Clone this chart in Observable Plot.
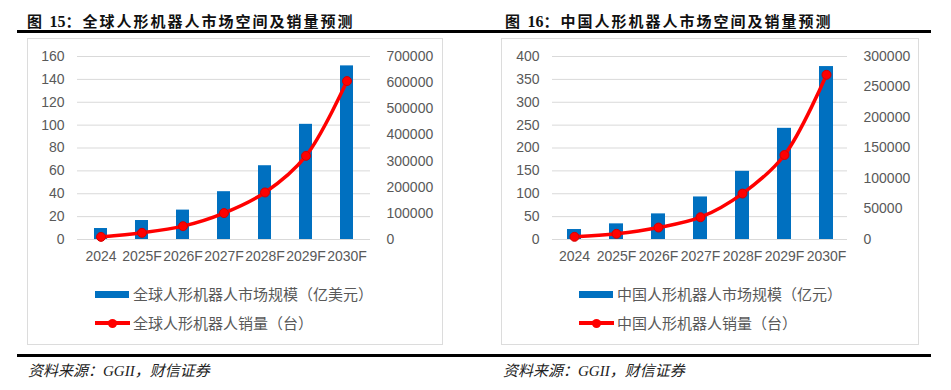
<!DOCTYPE html>
<html><head><meta charset="utf-8">
<script src="https://cdn.jsdelivr.net/npm/d3@7"></script>
<script src="https://cdn.jsdelivr.net/npm/@observablehq/plot@0.6"></script>
<style>
body{margin:0;background:#fff;width:951px;height:390px;position:relative;overflow:hidden;font-family:"Noto Sans CJK SC",sans-serif}
.abs{position:absolute}
.title{font-weight:bold;font-size:15px;letter-spacing:2px;color:#111;white-space:nowrap;line-height:18px}
.title .num{font-family:"Liberation Serif",serif;font-size:16px;letter-spacing:0}
.rule{background:#000;height:3px}
.box{border:1.5px solid #dcdcdc;box-sizing:border-box}
.leg{font-size:15px;color:#595959;white-space:nowrap;line-height:18px}
.src{font-size:15px;font-style:italic;color:#222;white-space:nowrap;line-height:18px}
.src .lat{font-family:"Liberation Serif",serif}
</style></head><body>
<script>
// ---- data ----
const years = ["2024", "2025F", "2026F", "2027F", "2028F", "2029F", "2030F"];
const globalMarket = [9.6, 16.6, 25.7, 41.8, 64.5, 100.7, 151.8];      // 亿美元
const globalSales = [10000, 25500, 51000, 101000, 180000, 320000, 606000]; // 台
const chinaMarket = [21.8, 34.2, 56, 93, 149, 243, 378];              // 亿元
const chinaSales = [4400, 9300, 19600, 36500, 75300, 138500, 270000];  // 台
const globalLeftTicks = [0, 20, 40, 60, 80, 100, 120, 140, 160];
const globalRightTicks = [0, 100000, 200000, 300000, 400000, 500000, 600000, 700000];
const chinaLeftTicks = [0, 50, 100, 150, 200, 250, 300, 350, 400];
const chinaRightTicks = [0, 50000, 100000, 150000, 200000, 250000, 300000];
const globalTitle = "全球人形机器人市场空间及销量预测";
const chinaTitle = "中国人形机器人市场空间及销量预测";
const globalBarLabel = "全球人形机器人市场规模（亿美元）";
const globalLineLabel = "全球人形机器人销量（台）";
const chinaBarLabel = "中国人形机器人市场规模（亿元）";
const chinaLineLabel = "中国人形机器人销量（台）";
const sourceText = ["资料来源：", "GGII", "，财信证券"];

const BLUE = "#0070c0", RED = "#ff0000", GRAY = "#595959";

function el(tag, cls, style, html) {
  const e = document.createElement(tag);
  if (cls) e.className = cls;
  Object.assign(e.style, style);
  if (html !== undefined) e.innerHTML = html;
  document.body.appendChild(e);
  return e;
}

function chart({market, sales, leftTicks, rightTicks, leftMax, rightMax, mLeft, mRight, w}) {
  const k = leftMax / rightMax;
  const rows = years.map((y, i) => ({year: y, market: market[i], s: sales[i] * k}));
  return Plot.plot({
    width: w, height: 232,
    marginLeft: mLeft, marginRight: mRight, marginTop: 17, marginBottom: 32,
    x: {domain: years, padding: 0, axis: null, label: null},
    y: {domain: [0, leftMax], axis: null, label: null},
    style: {fontFamily: "Liberation Sans, sans-serif", fontSize: "14px", color: GRAY, background: "transparent", overflow: "visible"},
    marks: [
      Plot.gridY(leftTicks, {stroke: "#d9d9d9", strokeOpacity: 1, strokeWidth: 1}),
      Plot.axisY(leftTicks, {anchor: "left", label: null, tickSize: 0, tickPadding: 13, fill: GRAY, fontSize: 14, tickFormat: d => String(d)}),
      Plot.axisY(rightTicks.map(v => v * k), {anchor: "right", label: null, tickSize: 0, tickPadding: 16, fill: GRAY, fontSize: 14, tickFormat: d => String(Math.round(d / k))}),
      Plot.axisX(years, {label: null, tickSize: 0, tickPadding: 12, fill: GRAY, fontSize: 14}),
      Plot.barY(rows, {x: "year", y: "market", fill: BLUE, insetLeft: 14, insetRight: 14}),
      Plot.line(rows, {x: "year", y: "s", stroke: RED, strokeWidth: 3.5, curve: "catmull-rom"}),
      Plot.dot(rows, {x: "year", y: "s", r: 4.5, fill: RED, stroke: "#d40000", strokeWidth: 1})
    ]
  });
}

// rules
el("div", "abs rule", {left: "17px", top: "30px", width: "914px"});
el("div", "abs rule", {left: "17px", top: "354px", width: "914px"});

// titles
el("div", "abs title", {left: "27px", top: "12px"}, `图 <span class="num">15</span>：${globalTitle}`);
el("div", "abs title", {left: "505px", top: "12px"}, `图 <span class="num">16</span>：${chinaTitle}`);

// boxes
el("div", "abs box", {left: "27px", top: "38px", width: "416px", height: "307px"});
el("div", "abs box", {left: "501px", top: "38px", width: "418px", height: "307px"});

// charts
const c1 = chart({market: globalMarket, sales: globalSales, leftTicks: globalLeftTicks, rightTicks: globalRightTicks, leftMax: 160, rightMax: 700000, mLeft: 49, mRight: 72, w: 414});
Object.assign(c1.style, {position: "absolute", left: "28px", top: "39px"});
document.body.appendChild(c1);
const c2 = chart({market: chinaMarket, sales: chinaSales, leftTicks: chinaLeftTicks, rightTicks: chinaRightTicks, leftMax: 400, rightMax: 300000, mLeft: 50, mRight: 71, w: 416});
Object.assign(c2.style, {position: "absolute", left: "502px", top: "39px"});
document.body.appendChild(c2);

// legends
function legend(x, barLabel, lineLabel) {
  el("div", "abs", {left: x + "px", top: "290.5px", width: "34px", height: "7px", background: BLUE});
  el("div", "abs leg", {left: (x + 38) + "px", top: "285px"}, barLabel);
  el("div", "abs", {left: x + "px", top: "321px", width: "35px", height: "4px", background: RED});
  el("div", "abs", {left: (x + 13) + "px", top: "318.5px", width: "9px", height: "9px", borderRadius: "50%", background: RED});
  el("div", "abs leg", {left: (x + 38) + "px", top: "314px"}, lineLabel);
}
legend(95, globalBarLabel, globalLineLabel);
legend(579, chinaBarLabel, chinaLineLabel);

// sources
const srcHtml = `${sourceText[0]}<span class="lat">${sourceText[1]}</span>${sourceText[2]}`;
el("div", "abs src", {left: "28px", top: "361px"}, srcHtml);
el("div", "abs src", {left: "503px", top: "361px"}, srcHtml);
</script>
</body></html>
